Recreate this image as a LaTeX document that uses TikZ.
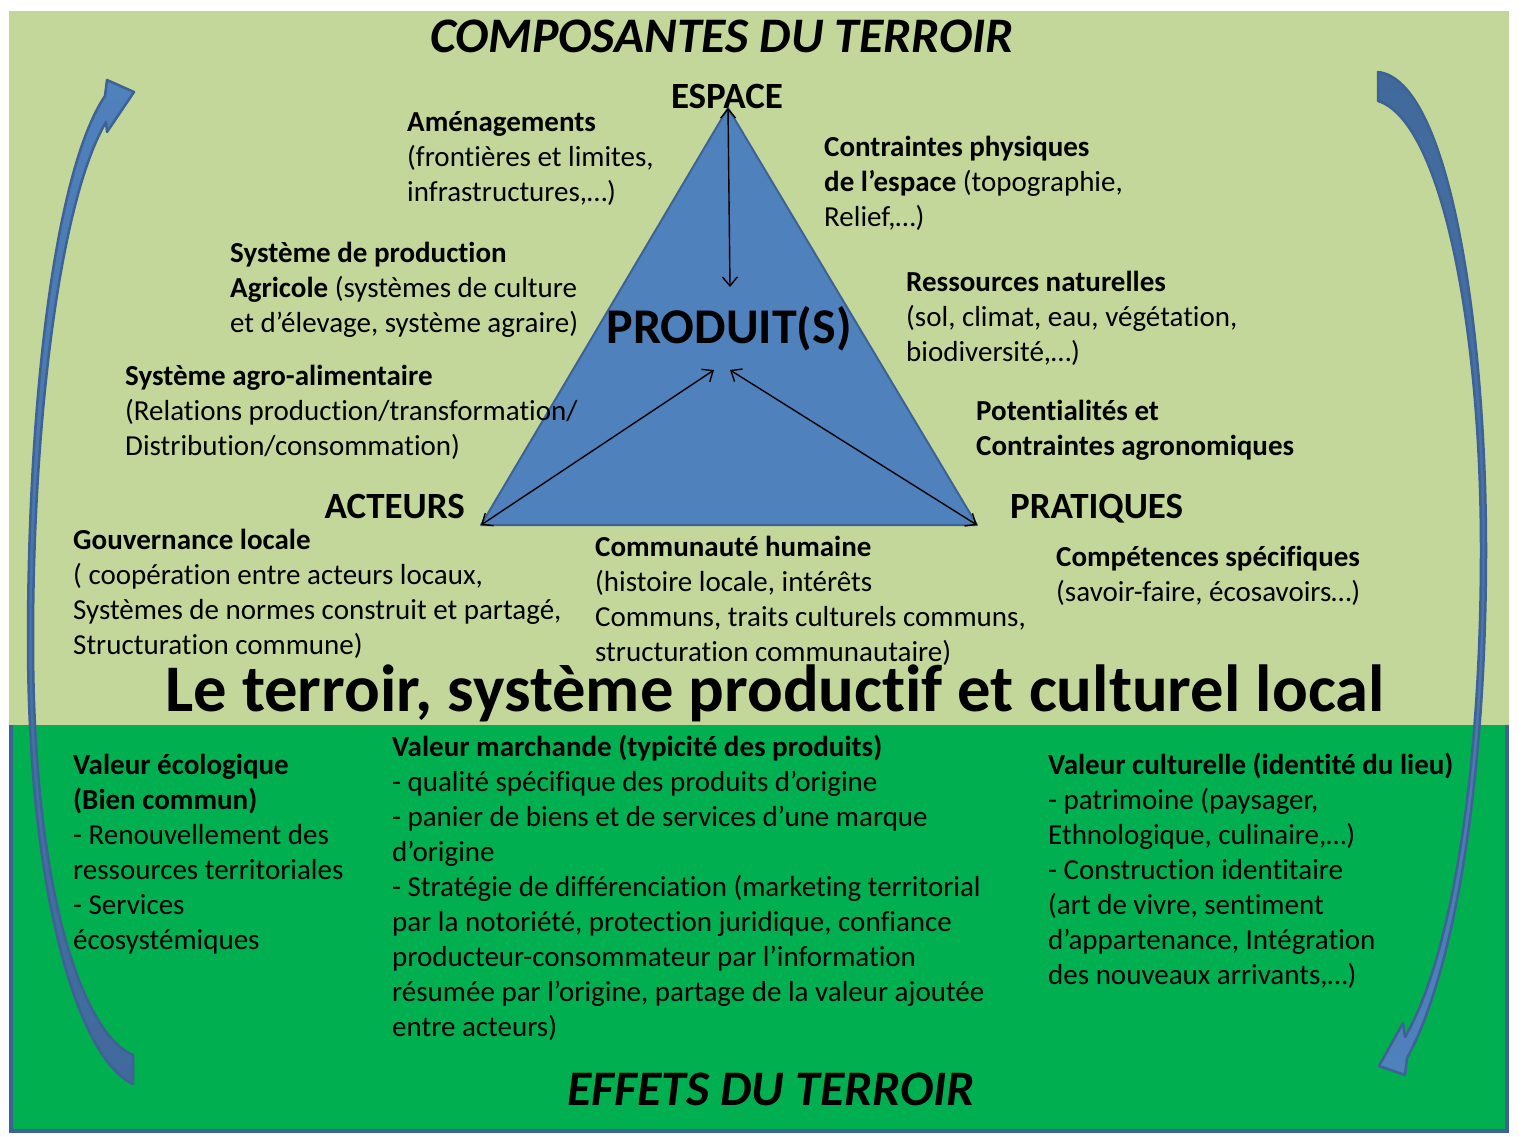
\documentclass[tikz,border=0pt]{standalone}
\usepackage{fontspec}
\setmainfont{Carlito}[Ligatures={TeX,NoCommon}]
\usepackage{tikz}
\usetikzlibrary{arrows.meta}
\definecolor{lightolive}{HTML}{C4D79B}
\definecolor{fieldgreen}{HTML}{00B050}
\definecolor{triblue}{HTML}{4F81BD}
\definecolor{edgeblue}{HTML}{3F6294}
\definecolor{deepblue}{HTML}{41699C}

\begin{document}
\begin{tikzpicture}[x=1pt,y=-1pt,
	txt/.style={anchor=north west, align=left, inner sep=0pt, font=\fontsize{29}{35}\selectfont},
	corner/.style={inner sep=0pt, font=\fontsize{37}{42}\selectfont\bfseries},
	heading/.style={anchor=base, inner sep=0pt, font=\fontsize{49.7}{55}\selectfont\bfseries\itshape},
	sidearrow/.style={draw=edgeblue, line width=2.5pt, line join=round}]
	\useasboundingbox (0,0) rectangle (1524,1136);
	% fonds
	\fill[lightolive] (9,11) rectangle (1509,725);
	\fill[fieldgreen] (11,725) rectangle (1508,1131);
	\draw[edgeblue, line width=4pt] (11,725) -- (11,1131) -- (1507,1131) -- (1507,725);
	% triangle
	\coordinate (esp) at (728,108);
	\coordinate (act) at (481,525);
	\coordinate (pra) at (977,525);
	\coordinate (p-top) at (730,287);
	\coordinate (p-left) at (714,370);
	\coordinate (p-right) at (730,370);
	\filldraw[fill=triblue, draw=edgeblue, line width=2pt, line join=round] (esp) -- (act) -- (pra) -- cycle;
	\path[{Straight Barb[length=9pt,width=15pt]}-{Straight Barb[length=9pt,width=15pt]}, line width=1.4pt]
	(esp) edge (p-top)
	(act) edge (p-left)
	(pra) edge (p-right);
	% fleches courbes
	\draw[sidearrow, top color=triblue, bottom color=deepblue]
	(105,96) .. controls (55,170) and (28,400) .. (28,640)
	.. controls (28,900) and (80,1060) .. (133,1084)
	-- (133,1055)
	.. controls (85,1035) and (33,900) .. (33,640)
	.. controls (33,420) and (60,200) .. (106,122)
	-- (107,132) -- (134,92) -- (107,80) -- cycle;
	\draw[sidearrow, top color=deepblue, bottom color=triblue]
	(1378,72) .. controls (1450,80) and (1486,330) .. (1486,550)
	.. controls (1486,800) and (1450,980) .. (1407,1058)
	-- (1405,1075) -- (1379,1066) -- (1403,1023) -- (1405,1037)
	.. controls (1450,960) and (1481,780) .. (1481,550)
	.. controls (1481,320) and (1440,120) .. (1378,101)
	-- cycle;
	% titres
	\node[heading] (compo) at (722,52) {COMPOSANTES DU TERROIR};
	\node[heading] (effets) at (771,1105) {EFFETS DU TERROIR};
	\node[corner, anchor=base] (espace) at (727,108) {ESPACE};
	\node[corner, anchor=base east] (acteurs) at (465,518) {ACTEURS};
	\node[corner, anchor=base west] (pratiques) at (1010,518) {PRATIQUES};
	\node[anchor=base, inner sep=0pt, font=\fontsize{50}{55}\selectfont\bfseries] (produit) at (729,343) {PRODUIT(S)};
	\node[anchor=base, inner sep=0pt, font=\fontsize{66.6}{75}\selectfont\bfseries] (terroir) at (775,711) {Le terroir, système productif et culturel local};
	% composantes
	\node[txt] (amenag) at (407,106.5) {\strut\textbf{Aménagements}\\(frontières et limites,\\infrastructures,…)};
	\node[txt] (contr) at (824,131.5) {\strut\textbf{Contraintes physiques}\\\textbf{de l’espace} (topographie,\\Relief,…)};
	\node[txt] (sysprod) at (230,237.5) {\strut\textbf{Système de production}\\\textbf{Agricole} (systèmes de culture\\et d’élevage, système agraire)};
	\node[txt] (ressources) at (906,266.5) {\strut\textbf{Ressources naturelles}\\(sol, climat, eau, végétation,\\biodiversité,…)};
	\node[txt] (agroalim) at (125,360.5) {\strut\textbf{Système agro-alimentaire}\\(Relations production/transformation/\\Distribution/consommation)};
	\node[txt] (potent) at (976,395.5) {\strut\textbf{Potentialités et}\\\textbf{Contraintes agronomiques}};
	\node[txt] (gouv) at (73,524.8) {\strut\textbf{Gouvernance locale}\\( coopération entre acteurs locaux,\\Systèmes de normes construit et partagé,\\Structuration commune)};
	\node[txt] (commu) at (595,531.5) {\strut\textbf{Communauté humaine}\\(histoire locale, intérêts\\Communs, traits culturels communs,\\structuration communautaire)};
	\node[txt] (compet) at (1056,541.5) {\strut\textbf{Compétences spécifiques}\\(savoir-faire, écosavoirs…)};
	% effets
	\node[txt] (ecolo) at (73,749.5) {\strut\textbf{Valeur écologique}\\\textbf{(Bien commun)}\\- Renouvellement des\\ressources territoriales\\- Services\\écosystémiques};
	\node[txt] (march) at (392,731.5) {\strut\textbf{Valeur marchande (typicité des produits)}\\- qualité spécifique des produits d’origine\\- panier de biens et de services d’une marque\\d’origine\\- Stratégie de différenciation (marketing territorial\\par la notoriété, protection juridique, confiance\\producteur-consommateur par l’information\\résumée par l’origine, partage de la valeur ajoutée\\entre acteurs)};
	\node[txt] (cultu) at (1048,749.5) {\strut\textbf{Valeur culturelle (identité du lieu)}\\- patrimoine (paysager,\\Ethnologique, culinaire,…)\\- Construction identitaire\\(art de vivre, sentiment\\d’appartenance, Intégration\\des nouveaux arrivants,…)};
\end{tikzpicture}
\end{document}
